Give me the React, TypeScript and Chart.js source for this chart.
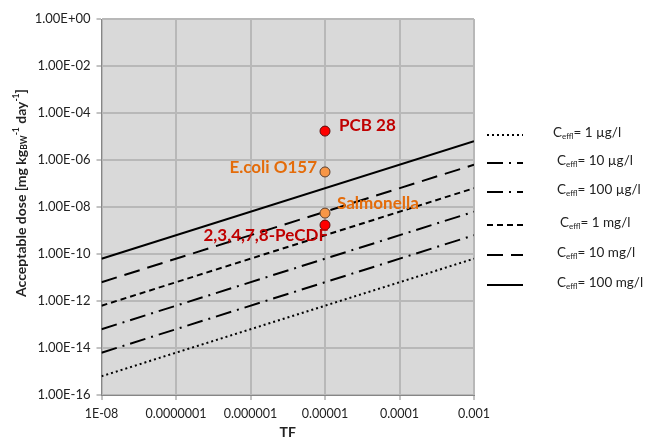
import React, { useEffect, useRef } from "react";
import { Chart, registerables } from "chart.js";

Chart.register(...registerables);

// Transfer factor range spanned by the guideline lines
const tfRange = [1e-8, 1e-3];

// Effluent concentration series (label after "C_effl =")
const concLabels = ["1 \u00b5g/l", "10 \u00b5g/l", "100 \u00b5g/l", "1 mg/l", "10 mg/l", "100 mg/l"];
// Acceptable dose at TF = 1E-08 and at TF = 0.001 for each concentration
const doseAtTfMin = [6.3e-16, 6.3e-15, 6.3e-14, 6.3e-13, 6.3e-12, 6.3e-11];
const doseAtTfMax = [6.3e-11, 6.3e-10, 6.3e-9, 6.3e-8, 6.3e-7, 6.3e-6];
const lineDashes = [[2, 3], [16, 6, 2, 6], [16, 6, 2, 6], [6, 4], [16, 8], []];

// Substances plotted as single points
const substances = ["PCB 28", "E.coli O157", "Salmonella", "2,3,4,7,8-PeCDF"];
const substanceTF = [1e-5, 1e-5, 1e-5, 1e-5];
const substanceDose = [1.7e-5, 3.1e-7, 5.5e-9, 1.7e-9];
const substanceGroup = ["chem", "micro", "micro", "chem"];

// Axis tick labels
const xTickValues = [1e-8, 1e-7, 1e-6, 1e-5, 1e-4, 1e-3];
const xTickLabels = ["1E-08", "0.0000001", "0.000001", "0.00001", "0.0001", "0.001"];
const yTickValues = [1e0, 1e-2, 1e-4, 1e-6, 1e-8, 1e-10, 1e-12, 1e-14, 1e-16];
const yTickLabels = ["1.00E+00", "1.00E-02", "1.00E-04", "1.00E-06", "1.00E-08", "1.00E-10", "1.00E-12", "1.00E-14", "1.00E-16"];

const FONT = "Lato, 'Liberation Sans', sans-serif";
const RED_FILL = "#ff0000";
const RED_TEXT = "#c00000";
const ORANGE_FILL = "#f79646";
const ORANGE_TEXT = "#e46c0a";

type Part = { text: string; size: number; dy?: number; bold?: boolean };

function richWidth(ctx: CanvasRenderingContext2D, parts: Part[]) {
  let w = 0;
  for (const p of parts) {
    ctx.font = `${p.bold ? "bold " : ""}${p.size}px ${FONT}`;
    w += ctx.measureText(p.text).width;
  }
  return w;
}

function drawRich(ctx: CanvasRenderingContext2D, parts: Part[], x: number, y: number) {
  let cx = x;
  for (const p of parts) {
    ctx.font = `${p.bold ? "bold " : ""}${p.size}px ${FONT}`;
    ctx.fillText(p.text, cx, y + (p.dy || 0));
    cx += ctx.measureText(p.text).width;
  }
}

const plotBackground = {
  id: "plotBackground",
  beforeDraw(chart: any) {
    const { ctx, chartArea } = chart;
    ctx.save();
    ctx.fillStyle = "#d9d9d9";
    ctx.fillRect(chartArea.left, chartArea.top, chartArea.right - chartArea.left, chartArea.bottom - chartArea.top);
    ctx.restore();
  },
};

// Substance labels, legend with subscripts and the two axis titles
const decorations = {
  id: "decorations",
  afterDatasetsDraw(chart: any) {
    const { ctx, scales } = chart;
    const xs = scales.x;
    const ys = scales.y;
    ctx.save();

    // substance labels
    const offsets = [
      { dx: 14, dy: -6, align: "left" },
      { dx: -8, dy: -4, align: "right" },
      { dx: 12, dy: -10, align: "left" },
      { dx: 3, dy: 10, align: "right" },
    ];
    ctx.textBaseline = "middle";
    ctx.font = `bold 17px ${FONT}`;
    substances.forEach((name, i) => {
      const px = xs.getPixelForValue(substanceTF[i]);
      const py = ys.getPixelForValue(substanceDose[i]);
      const o = offsets[i];
      ctx.fillStyle = substanceGroup[i] === "chem" ? RED_TEXT : ORANGE_TEXT;
      ctx.textAlign = o.align as CanvasTextAlign;
      ctx.fillText(name, px + o.dx, py + o.dy);
    });

    // legend
    const rowsY = [135, 163, 192, 225, 255, 285];
    const textX = [553, 557, 557, 560, 557, 557];
    ctx.textAlign = "left";
    ctx.textBaseline = "middle";
    concLabels.forEach((lab, i) => {
      const y = rowsY[i];
      ctx.strokeStyle = "#000";
      ctx.lineWidth = 2;
      ctx.lineCap = "butt";
      ctx.setLineDash(lineDashes[i]);
      ctx.beginPath();
      ctx.moveTo(487, y);
      ctx.lineTo(523, y);
      ctx.stroke();
      ctx.setLineDash([]);
      ctx.fillStyle = "#222";
      drawRich(
        ctx,
        [
          { text: "C", size: 13.5 },
          { text: "effl", size: 8, dy: 3 },
          { text: "= " + lab, size: 13.5 },
        ],
        textX[i],
        y - 2
      );
    });

    // x title
    ctx.fillStyle = "#222";
    ctx.font = `bold 14px ${FONT}`;
    ctx.textAlign = "center";
    ctx.fillText("TF", (chart.chartArea.left + chart.chartArea.right) / 2, 432);

    // y title (rotated)
    const parts: Part[] = [
      { text: "Acceptable dose [mg kg", size: 14, bold: true },
      { text: "BW", size: 8.5, dy: 3, bold: true },
      { text: "-1", size: 8.5, dy: -5, bold: true },
      { text: " day", size: 14, bold: true },
      { text: "-1", size: 8.5, dy: -5, bold: true },
      { text: "]", size: 14, bold: true },
    ];
    ctx.translate(21, 193);
    ctx.rotate(-Math.PI / 2);
    ctx.textAlign = "left";
    const w = richWidth(ctx, parts);
    drawRich(ctx, parts, -w / 2, 0);

    ctx.restore();
  },
};

export default function App() {
  const canvasRef = useRef<HTMLCanvasElement | null>(null);

  useEffect(() => {
    if (!canvasRef.current) return;

    const lineSets = concLabels.map((lab, i) => ({
      label: "C_effl = " + lab,
      data: [
        { x: tfRange[0], y: doseAtTfMin[i] },
        { x: tfRange[1], y: doseAtTfMax[i] },
      ],
      showLine: true,
      borderColor: "#000",
      borderWidth: 2,
      borderDash: lineDashes[i],
      borderCapStyle: "butt",
      pointRadius: 0,
      pointHoverRadius: 0,
      order: 2,
    }));

    const pointSets = substances.map((name, i) => ({
      label: name,
      data: [{ x: substanceTF[i], y: substanceDose[i] }],
      showLine: false,
      pointRadius: 5,
      pointBorderWidth: 1,
      pointBackgroundColor: substanceGroup[i] === "chem" ? RED_FILL : ORANGE_FILL,
      pointBorderColor: substanceGroup[i] === "chem" ? "#5a1010" : "#5a4030",
      order: 1,
    }));

    const chart = new Chart(canvasRef.current, {
      type: "scatter",
      data: { datasets: [...lineSets, ...pointSets] as any },
      options: {
        responsive: false,
        animation: false,
        layout: { padding: { top: 19, right: 172, left: 0, bottom: 0 } },
        plugins: {
          legend: { display: false },
          tooltip: { enabled: false },
        },
        scales: {
          x: {
            type: "logarithmic",
            min: tfRange[0],
            max: tfRange[1],
            afterBuildTicks: (scale: any) => {
              scale.ticks = xTickValues.map((v) => ({ value: v }));
            },
            afterFit: (scale: any) => {
              scale.height = 46;
            },
            ticks: {
              autoSkip: false,
              maxRotation: 0,
              padding: 6,
              color: "#222",
              font: { family: FONT, size: 12.5 },
              callback: (_v: any, i: number) => xTickLabels[i],
            },
            grid: {
              color: "#b8b8b8",
              lineWidth: 2,
              drawTicks: true,
              tickLength: 5,
              tickColor: "#868686",
              tickWidth: 1,
            },
            border: { display: true, color: "#868686", width: 1 },
          },
          y: {
            type: "logarithmic",
            min: 1e-16,
            max: 1,
            afterBuildTicks: (scale: any) => {
              scale.ticks = yTickValues.map((v) => ({ value: v }));
            },
            afterFit: (scale: any) => {
              scale.width = 101.5;
            },
            ticks: {
              autoSkip: false,
              padding: 6,
              color: "#222",
              font: { family: FONT, size: 13 },
              callback: (_v: any, i: number) => yTickLabels[i],
            },
            grid: {
              color: "#b8b8b8",
              lineWidth: 2,
              drawTicks: true,
              tickLength: 5,
              tickColor: "#868686",
              tickWidth: 1,
            },
            border: { display: true, color: "#868686", width: 1 },
          },
        },
      },
      plugins: [plotBackground, decorations],
    });

    return () => chart.destroy();
  }, []);

  return (
    <div style={{ position: "absolute", left: 0, top: 0, width: 646, height: 441, background: "#fff" }}>
      <canvas ref={canvasRef} width={646} height={441} style={{ width: 646, height: 441 }} />
    </div>
  );
}
